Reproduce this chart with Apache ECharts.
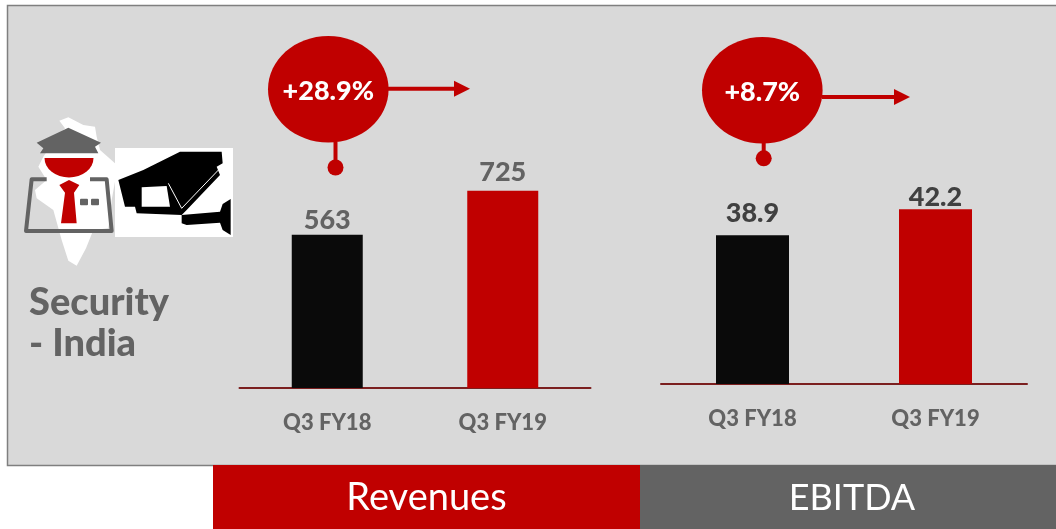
<!DOCTYPE html>
<html><head><meta charset="utf-8">
<style>html,body{margin:0;padding:0;background:#fff}#c{width:1056px;height:529px}</style>
<script src="https://cdn.jsdelivr.net/npm/echarts@6/dist/echarts.min.js"></script>
</head><body><div id="c"></div>
<script>
const categories = ['Q3 FY18', 'Q3 FY19'];
const revenues = [563, 725];
const ebitda = [38.9, 42.2];
const revenueGrowth = '+28.9%';
const ebitdaGrowth = '+8.7%';
const panelTitle = ['Security', '- India'];
const footerLabels = ['Revenues', 'EBITDA'];

const RED = '#c00000', GREY = '#636363', BLACK = '#0a0a0a';
const FONT = 'Lato';
const chart = echarts.init(document.getElementById('c'), null, {renderer: 'canvas'});

const z = pts => pts.map(p => [p[0] / 3, 100 + p[1] / 3]);
const poly = (pts, fill) => ({type: 'polygon', shape: {points: z(pts)}, style: {fill}});
const arrow = (x1, x2, y) => [
  {type: 'line', shape: {x1, y1: y, x2: x2 - 14, y2: y}, style: {stroke: RED, lineWidth: 4}},
  {type: 'polygon', shape: {points: [[x2 - 16, y - 8], [x2, y], [x2 - 16, y + 8]]}, style: {fill: RED}}
];
const bubble = (cx, cy, text, pinX, pinY1, pinY2) => [
  {type: 'line', shape: {x1: pinX, y1: pinY1, x2: pinX, y2: pinY2}, style: {stroke: RED, lineWidth: 4}},
  {type: 'circle', shape: {cx: pinX, cy: pinY2, r: 8}, style: {fill: RED}},
  {type: 'ellipse', shape: {cx, cy, rx: 60.3, ry: 53.3}, style: {fill: RED}},
  {type: 'text', x: cx, y: cy + 2, style: {text, fill: '#fff', font: '900 27px ' + FONT, textAlign: 'center', textVerticalAlign: 'middle'}}
];

const background = [
  {type: 'rect', shape: {x: 7.5, y: 5.5, width: 1060, height: 460}, style: {fill: '#d9d9d9', stroke: '#7f7f7f', lineWidth: 1.5}},
  {type: 'rect', shape: {x: 213, y: 465, width: 427, height: 64}, style: {fill: RED}},
  {type: 'rect', shape: {x: 640, y: 465, width: 416, height: 64}, style: {fill: GREY}},
  {type: 'text', x: 426.5, y: 498, style: {text: footerLabels[0], fill: '#fff', font: '38px ' + FONT, textAlign: 'center', textVerticalAlign: 'middle'}},
  {type: 'text', x: 852, y: 498, style: {text: footerLabels[1], fill: '#fff', font: '36px ' + FONT, textAlign: 'center', textVerticalAlign: 'middle'}},
  {type: 'text', x: 29, y: 303, style: {text: panelTitle[0], fill: GREY, font: '900 38px ' + FONT, textVerticalAlign: 'middle'}},
  {type: 'text', x: 29, y: 344, style: {text: panelTitle[1], fill: GREY, font: '900 38px ' + FONT, textVerticalAlign: 'middle'}},
  // India silhouette
  poly([[178,62],[205,52],[250,75],[285,80],[290,110],[300,150],[345,190],[345,245],[335,300],[325,385],[280,390],[258,445],[230,497],[205,482],[185,420],[160,330],[110,295],[105,270],[140,240],[115,200],[130,170],[170,110],[195,85]], '#fff'),
  // officer
  poly([[205,83],[303,128],[285,140],[295,160],[120,160],[130,145],[110,128]], GREY),
  {type: 'sector', x: 69, y: 158, scaleY: 0.8, shape: {cx: 0, cy: 0, r: 24.5, startAngle: 0, endAngle: Math.PI}, style: {fill: RED}},
  {type: 'polyline', shape: {points: z([[140,238],[95,238],[78,393],[335,393],[320,238],[270,238]])}, style: {stroke: GREY, lineWidth: 4, fill: null, lineJoin: 'round'}},
  poly([[178,255],[207,240],[238,255],[222,278],[230,370],[183,370],[195,278]], RED),
  {type: 'rect', shape: {x: 80, y: 198.7, width: 8, height: 6.5, r: 1}, style: {fill: GREY}},
  {type: 'rect', shape: {x: 91, y: 198.7, width: 8, height: 6.5, r: 1}, style: {fill: GREY}},
  // camera
  {type: 'rect', shape: {x: 115, y: 148, width: 118, height: 89}, style: {fill: '#fff'}},
  poly([[540,155],[665,155],[668,190],[650,200],[660,225],[560,330],[545,345],[410,340],[405,320],[375,320],[355,240],[430,210]], '#000'),
  poly([[425,262],[500,258],[510,320],[425,320]], '#fff'),
  poly([[545,345],[660,335],[668,312],[692,297],[692,405],[668,390],[660,368],[560,375],[545,370]], '#000'),
  {type: 'polyline', shape: {points: z([[505,250],[545,325],[660,205]])}, style: {stroke: '#fff', lineWidth: 1, fill: null}}
];

const foreground = [
  ...arrow(388, 470, 88.7),
  ...arrow(822, 910, 97),
  ...bubble(328.3, 89.3, revenueGrowth, 335.5, 142, 167.5),
  ...bubble(762.3, 90.3, ebitdaGrowth, 763.7, 143, 158.3)
];

const xAxis = (gridIndex, margin) => ({
  type: 'category', gridIndex, data: categories,
  axisTick: {show: false},
  axisLine: {lineStyle: {color: '#7b1f1f', width: 2}},
  axisLabel: {color: GREY, fontFamily: FONT, fontWeight: 900, fontSize: 22, margin, interval: 0}
});
const yAxis = (gridIndex, min, max) => ({type: 'value', gridIndex, min, max, show: false, splitLine: {show: false}});
const bars = (idx, values, width, color, gaps) => ({
  type: 'bar', xAxisIndex: idx, yAxisIndex: idx, barWidth: width, silent: true,
  data: values.map((v, i) => ({
    value: v,
    itemStyle: {color: i === 0 ? BLACK : RED},
    label: {distance: gaps[i]}
  })),
  label: {show: true, position: 'top', color, fontFamily: FONT, fontWeight: 900, fontSize: 27}
});

chart.setOption({
  animation: false,
  backgroundColor: '#fff',
  grid: [
    {left: 239.5, width: 351, top: 116, height: 272},
    {left: 661, width: 366, top: 148, height: 236}
  ],
  xAxis: [xAxis(0, 24), xAxis(1, 24)],
  yAxis: [yAxis(0, 0, 1000), yAxis(1, 20, 50)],
  series: [
    bars(0, revenues, 71, GREY, [1, 5]),
    bars(1, ebitda, 73, '#404040', [9, -1])
  ],
  graphic: [
    {type: 'group', silent: true, z: -1, zlevel: -1, children: background},
    {type: 'group', silent: true, children: foreground}
  ]
});
</script></body></html>
